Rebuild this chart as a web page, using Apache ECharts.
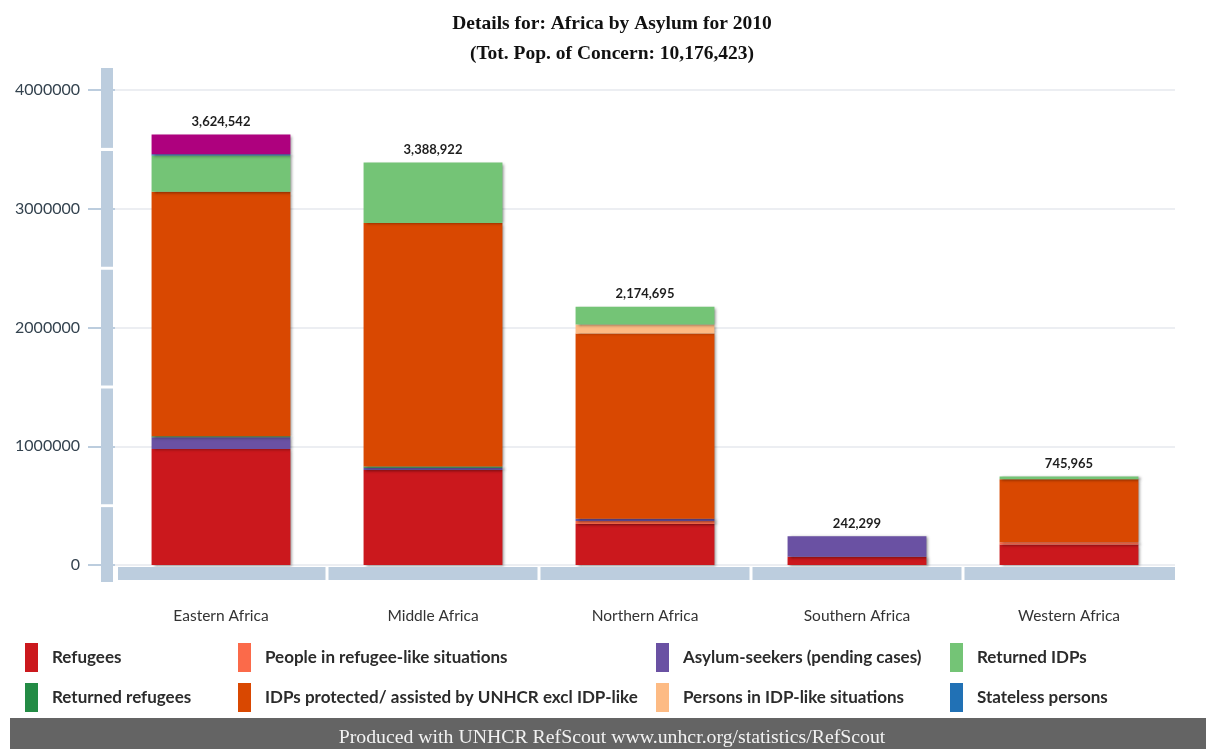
<!DOCTYPE html>
<html>
<head>
<meta charset="utf-8">
<script src="https://cdn.jsdelivr.net/npm/echarts@6/dist/echarts.min.js"></script>
<style>
  html, body { margin: 0; padding: 0; background: #fff; }
  #chart { width: 1206px; height: 749px; }
</style>
</head>
<body>
<div id="chart"></div>
<script>
// Population of concern by region of asylum, Africa 2010
const categories = ['Eastern Africa', 'Middle Africa', 'Northern Africa', 'Southern Africa', 'Western Africa'];

const refugees         = [976000, 800000, 345000, 70000, 172000];
const refugeeLike      = [0, 0, 25000, 0, 20000];
const asylumSeekers    = [100000, 18000, 20000, 172299, 0];
const returnedRefugees = [8000, 12000, 0, 0, 0];
const idps             = [2060000, 2050000, 1560000, 0, 530000];
const idpLike          = [0, 0, 75000, 0, 0];
const returnedIdps     = [305000, 508922, 149695, 0, 23965];
const stateless        = [10000, 0, 0, 0, 0];
const othersOfConcern  = [165542, 0, 0, 0, 0];

const yTicks = [0, 1000000, 2000000, 3000000, 4000000];

// Stack order, bottom to top
const seriesDefs = [
  { name: 'Refugees', data: refugees, color: '#cb181d' },
  { name: 'People in refugee-like situations', data: refugeeLike, color: '#fb6a4a' },
  { name: 'Asylum-seekers (pending cases)', data: asylumSeekers, color: '#6a51a3' },
  { name: 'Returned refugees', data: returnedRefugees, color: '#238b45' },
  { name: 'IDPs protected/ assisted by UNHCR excl IDP-like', data: idps, color: '#d94801' },
  { name: 'Persons in IDP-like situations', data: idpLike, color: '#fdbb84' },
  { name: 'Returned IDPs', data: returnedIdps, color: '#74c476' },
  { name: 'Stateless persons', data: stateless, color: '#2171b5' },
  { name: 'Others of concern', data: othersOfConcern, color: '#ae017e' }
];

const totals = categories.map((_, i) => seriesDefs.reduce((s, d) => s + d.data[i], 0));
const grandTotal = totals.reduce((a, b) => a + b, 0);
const fmt = v => v.toLocaleString('en-US');

// Layout of the plotting area
const W = 1206, H = 749;
const GRID = { left: 115, right: 31, top: 90, bottom: 184 };
const plotBottom = H - GRID.bottom;
const plotW = W - GRID.left - GRID.right;
const plotH = plotBottom - GRID.top;
const catW = plotW / categories.length;
const BAND = '#bccdde';

const graphics = [];
// Two-line heading
graphics.push({ type: 'text', z: 11, silent: true,
  x: 612, y: 9,
  style: { text: 'Details for: Africa by Asylum for 2010\n(Tot. Pop. of Concern: ' + fmt(grandTotal) + ')',
    fill: '#111', font: 'bold 19.5px "Liberation Serif", "Times New Roman", serif',
    lineHeight: 30, textAlign: 'center', textVerticalAlign: 'top' } });

// Decorative axis bands: a segmented vertical bar and a segmented base bar
const vX = 101, vW = 12, vTop = 68, vBottom = 582;
const cuts = [];
for (let k = 0; k < yTicks.length - 1; k++) {
  cuts.push(GRID.top + plotH * (k + 0.5) / (yTicks.length - 1));
}
let segStart = vTop;
cuts.concat([vBottom + 1.5]).forEach(c => {
  graphics.push({ type: 'rect', z: 10, silent: true,
    shape: { x: vX, y: segStart, width: vW, height: c - 1.5 - segStart },
    style: { fill: BAND } });
  segStart = c + 1.5;
});
for (let i = 0; i < categories.length; i++) {
  const x0 = GRID.left + catW * i + (i === 0 ? 3 : 1.5);
  const x1 = GRID.left + catW * (i + 1) - (i === categories.length - 1 ? 0 : 1.5);
  graphics.push({ type: 'rect', z: 10, silent: true,
    shape: { x: x0, y: plotBottom + 2, width: x1 - x0, height: 13 },
    style: { fill: BAND } });
}
// Footer strip
graphics.push({ type: 'rect', z: 10, silent: true,
  shape: { x: 10, y: 718, width: W - 10, height: H - 718 },
  style: { fill: '#646464' } });
graphics.push({ type: 'text', z: 11, silent: true,
  x: 612, y: 738,
  style: { text: 'Produced with UNHCR RefScout www.unhcr.org/statistics/RefScout',
    fill: '#f2f2f2', font: '19.8px "Liberation Serif", "Times New Roman", serif',
    textAlign: 'center', textVerticalAlign: 'middle' } });

// Legend columns (two rows each)
const legendCols = [
  { left: 20,  items: ['Refugees', 'Returned refugees'] },
  { left: 233, items: ['People in refugee-like situations', 'IDPs protected/ assisted by UNHCR excl IDP-like'] },
  { left: 651, items: ['Asylum-seekers (pending cases)', 'Persons in IDP-like situations'] },
  { left: 945, items: ['Returned IDPs', 'Stateless persons'] }
];
const legends = legendCols.map(c => ({
  left: c.left, top: 638, orient: 'vertical',
  data: c.items, icon: 'rect',
  itemWidth: 13, itemHeight: 29, itemGap: 11,
  selectedMode: false,
  textStyle: { fontFamily: 'Lato', fontWeight: 'bold', fontSize: 17, color: '#2b2b2b',
    padding: [0, 0, 5, 9] }
}));

const barSeries = seriesDefs.map(d => ({
  name: d.name, type: 'bar', stack: 'total', data: d.data,
  barWidth: '65.5%',
  itemStyle: { color: d.color, shadowColor: 'rgba(0,0,0,0.45)', shadowBlur: 3,
    shadowOffsetX: 2, shadowOffsetY: 1 },
  emphasis: { disabled: true }
}));

// Total label riding on top of each stack
barSeries.push({
  name: 'Total', type: 'bar', stack: 'total',
  data: categories.map(() => 0),
  barWidth: '65.5%',
  itemStyle: { color: 'rgba(0,0,0,0)' },
  label: { show: true, position: 'top', distance: 6,
    formatter: p => fmt(totals[p.dataIndex]),
    fontFamily: 'Lato', fontWeight: 'bold', fontSize: 13, color: '#1e1e1e' },
  emphasis: { disabled: true }
});

const chart = echarts.init(document.getElementById('chart'), null, { renderer: 'canvas' });
chart.setOption({
  animation: false,
  backgroundColor: '#ffffff',
  legend: legends,
  grid: { left: GRID.left, right: GRID.right, top: GRID.top, bottom: GRID.bottom, containLabel: false },
  xAxis: {
    type: 'category', data: categories,
    axisLine: { show: false }, axisTick: { show: false },
    axisLabel: { margin: 43, fontFamily: 'Lato', fontSize: 15.5, color: '#333' }
  },
  yAxis: {
    type: 'value', min: yTicks[0], max: yTicks[yTicks.length - 1], interval: yTicks[1] - yTicks[0],
    axisLine: { show: false },
    axisTick: { show: true, length: 27, lineStyle: { color: BAND, width: 2 } },
    axisLabel: { margin: 35, fontFamily: 'Lato', fontSize: 16, color: '#34434f',
      formatter: v => String(v) },
    splitLine: { lineStyle: { color: '#e6e9ee', width: 1.5 } }
  },
  series: barSeries,
  graphic: graphics
});
</script>
</body>
</html>
